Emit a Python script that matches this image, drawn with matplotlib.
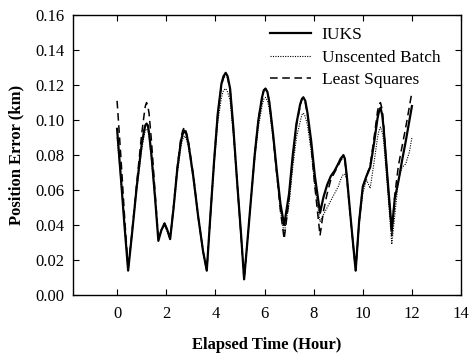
import matplotlib
matplotlib.use("Agg")
import matplotlib.pyplot as plt

plt.rcParams['font.family'] = ['Liberation Serif', 'DejaVu Serif']

# Elapsed time (hours) shared by all three estimators
hours = [0.0, 0.15, 0.3, 0.45,
         0.6, 0.8, 1.0, 1.1, 1.15, 1.2, 1.25, 1.3, 1.4, 1.55, 1.68,
         1.8, 1.93, 2.05, 2.16,
         2.3, 2.45, 2.6, 2.67, 2.74, 2.82, 2.9, 3.1, 3.3, 3.5, 3.65,
         3.8, 3.95, 4.1, 4.25, 4.33, 4.42, 4.5, 4.6, 4.73, 4.9, 5.05, 5.17,
         5.3, 5.45, 5.6, 5.75, 5.9, 5.97, 6.04, 6.12, 6.2, 6.35, 6.5, 6.65, 6.8,
         7.0, 7.15, 7.3, 7.45, 7.52, 7.58, 7.66, 7.75, 7.9, 8.05, 8.26,
         8.4, 8.55, 8.7, 8.85, 9.0, 9.1, 9.16, 9.21, 9.27, 9.35, 9.5, 9.6, 9.71,
         9.85, 10.0, 10.15, 10.3, 10.45, 10.6, 10.66, 10.72, 10.79, 10.85, 11.0, 11.18,
         11.3, 11.45, 11.6, 11.75, 11.9, 12.0]

iuks = [0.095, 0.068, 0.040, 0.014,
        0.034, 0.062, 0.086, 0.094, 0.097, 0.098, 0.097, 0.093, 0.080, 0.055, 0.031,
        0.037, 0.041, 0.037, 0.032,
        0.050, 0.072, 0.088, 0.092, 0.094, 0.092, 0.087, 0.068, 0.045, 0.025, 0.014,
        0.046, 0.077, 0.104, 0.121, 0.125, 0.127, 0.125, 0.118, 0.096, 0.062, 0.034, 0.009,
        0.030, 0.055, 0.080, 0.100, 0.113, 0.117, 0.118, 0.116, 0.110, 0.092, 0.071, 0.052, 0.040,
        0.058, 0.080, 0.098, 0.109, 0.112, 0.113, 0.111, 0.104, 0.088, 0.068, 0.047,
        0.056, 0.063, 0.068, 0.071, 0.075, 0.078, 0.079, 0.080, 0.078, 0.068, 0.045, 0.030, 0.014,
        0.042, 0.062, 0.068, 0.073, 0.086, 0.101, 0.105, 0.107, 0.103, 0.095, 0.068, 0.037,
        0.055, 0.065, 0.077, 0.088, 0.100, 0.108]

unscented_batch = [0.090, 0.066, 0.040, 0.015,
                   0.034, 0.060, 0.083, 0.091, 0.094, 0.095, 0.094, 0.090, 0.077, 0.053, 0.032,
                   0.037, 0.040, 0.036, 0.032,
                   0.048, 0.069, 0.085, 0.089, 0.091, 0.089, 0.085, 0.066, 0.044, 0.025, 0.014,
                   0.045, 0.074, 0.099, 0.113, 0.117, 0.118, 0.116, 0.111, 0.092, 0.060, 0.033, 0.010,
                   0.030, 0.054, 0.077, 0.096, 0.108, 0.112, 0.113, 0.111, 0.106, 0.089, 0.068, 0.048, 0.035,
                   0.052, 0.073, 0.090, 0.099, 0.103, 0.104, 0.102, 0.097, 0.082, 0.062, 0.042,
                   0.046, 0.050, 0.054, 0.058, 0.062, 0.066, 0.068, 0.069, 0.069, 0.066, 0.045, 0.030, 0.015,
                   0.040, 0.058, 0.066, 0.061, 0.075, 0.090, 0.094, 0.096, 0.093, 0.088, 0.062, 0.029,
                   0.045, 0.066, 0.073, 0.075, 0.082, 0.090]

least_squares = [0.111, 0.080, 0.046, 0.015,
                 0.035, 0.064, 0.092, 0.103, 0.108, 0.110, 0.108, 0.104, 0.088, 0.058, 0.032,
                 0.037, 0.041, 0.037, 0.032,
                 0.051, 0.073, 0.090, 0.094, 0.096, 0.093, 0.088, 0.069, 0.045, 0.025, 0.014,
                 0.046, 0.077, 0.104, 0.120, 0.124, 0.126, 0.124, 0.117, 0.095, 0.062, 0.033, 0.009,
                 0.030, 0.055, 0.080, 0.100, 0.113, 0.117, 0.118, 0.116, 0.110, 0.091, 0.069, 0.048, 0.032,
                 0.055, 0.078, 0.097, 0.108, 0.112, 0.113, 0.110, 0.103, 0.085, 0.062, 0.034,
                 0.048, 0.058, 0.066, 0.070, 0.074, 0.077, 0.078, 0.079, 0.077, 0.067, 0.044, 0.030, 0.014,
                 0.042, 0.062, 0.068, 0.074, 0.089, 0.105, 0.109, 0.110, 0.106, 0.097, 0.067, 0.034,
                 0.057, 0.074, 0.085, 0.096, 0.108, 0.116]

x_ticks = [0, 2, 4, 6, 8, 10, 12, 14]
y_ticks = [0.00, 0.02, 0.04, 0.06, 0.08, 0.10, 0.12, 0.14, 0.16]

fig = plt.figure(figsize=(4.7, 3.59), dpi=100)
ax = fig.add_axes([0.155, 0.178, 0.826, 0.780])

ax.plot(hours, iuks, color='black', linestyle='-', linewidth=1.6, label='IUKS')
ax.plot(hours, unscented_batch, color='black', linestyle=(0, (1, 1.2)), linewidth=0.8,
        label='Unscented Batch')
ax.plot(hours, least_squares, color='black', linestyle=(0, (5, 3)), linewidth=1.1,
        label='Least Squares')

ax.set_xlim(-1.8, 14)
ax.set_ylim(0, 0.16)
ax.set_xticks(x_ticks)
ax.set_yticks(y_ticks)
ax.set_xticklabels([str(v) for v in x_ticks], fontsize=12)
ax.set_yticklabels([f"{v:.2f}" for v in y_ticks], fontsize=12)
ax.tick_params(direction='in', length=4, width=0.8, top=True, right=True, pad=8)
ax.tick_params(axis='y', pad=6)

for s in ax.spines.values():
    s.set_linewidth(1.0)
    s.set_color('black')

ax.set_xlabel('Elapsed Time (Hour)', fontsize=12, fontweight='bold', labelpad=11)
ax.set_ylabel('Position Error (km)', fontsize=12, fontweight='bold', labelpad=8)

ax.legend(loc='upper right', frameon=False, fontsize=12.5, handlelength=2.4,
          handletextpad=0.6, labelspacing=0.35, borderaxespad=0.3,
          bbox_to_anchor=(0.978, 1.0))

fig.savefig('out.png', dpi=100)
